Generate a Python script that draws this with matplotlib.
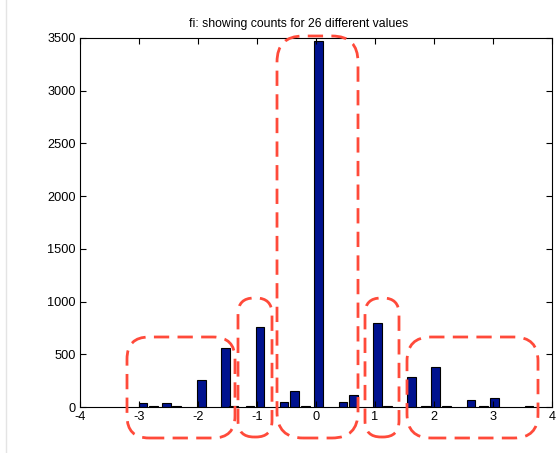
import matplotlib
matplotlib.use("Agg")
import matplotlib.pyplot as plt
from matplotlib.patches import FancyBboxPatch
from matplotlib.lines import Line2D
from matplotlib.transforms import IdentityTransform

plt.rcParams['font.family'] = ['Liberation Sans', 'DejaVu Sans']

values = [-2.93, -2.75, -2.53, -2.36, -1.94, -1.53, -1.40, -1.12, -0.95,
          -0.54, -0.36, -0.18, 0.04, 0.46, 0.64, 1.04, 1.21, 1.62, 1.86,
          2.03, 2.21, 2.63, 2.84, 3.03, 3.61]
counts = [40, 8, 38, 8, 253, 557, 10, 8, 762,
          45, 152, 8, 3470, 45, 111, 797, 8, 282, 8,
          377, 8, 66, 8, 81, 8]
xticks = [-4, -3, -2, -1, 0, 1, 2, 3, 4]
yticks = [0, 500, 1000, 1500, 2000, 2500, 3000, 3500]
title = "fi: showing counts for 26 different values"

W, H = 556, 453
fig = plt.figure(figsize=(W / 100, H / 100), dpi=100)
ax = fig.add_axes([80 / W, 1 - 407 / H, (552 - 80) / W, (407 - 38) / H])

ax.bar(values, counts, width=0.145, color='#00128f', edgecolor='black', linewidth=0.8)
ax.set_xlim(-4, 4)
ax.set_ylim(0, 3500)
ax.set_xticks(xticks)
ax.set_xticklabels([str(t) for t in xticks])
ax.set_yticks(yticks)
ax.set_yticklabels([str(t) for t in yticks])
ax.tick_params(direction='in', length=4, width=0.8, top=True, right=True,
               labelsize=9.2, pad=3)
for s in ax.spines.values():
    s.set_linewidth(0.8)
ax.set_title(title, fontsize=8.8, pad=8, x=(299 - 80) / 472)

# light border line at left of screenshot
fig.add_artist(Line2D([5.5 / W, 5.5 / W], [0, 1], transform=fig.transFigure,
                      color='#e4e4e4', linewidth=1))

# red dashed rounded annotation boxes (pixel coordinates, image y from top)
boxes = [
    (127, 337, 235, 438, 22),
    (238, 298, 272, 437, 16),
    (277, 36, 358, 438, 26),
    (365, 298, 399, 437, 16),
    (407, 337, 538, 438, 24),
]
for x0, y0, x1, y1, r in boxes:
    p = FancyBboxPatch((x0, H - y1), x1 - x0, y1 - y0,
                       boxstyle=f"round,pad=0,rounding_size={r}",
                       transform=IdentityTransform(), fill=False,
                       edgecolor='#ff4a3a', linewidth=2.0,
                       linestyle=(0, (5.5, 3)), clip_on=False)
    fig.add_artist(p)

fig.savefig('out.png', dpi=100)
